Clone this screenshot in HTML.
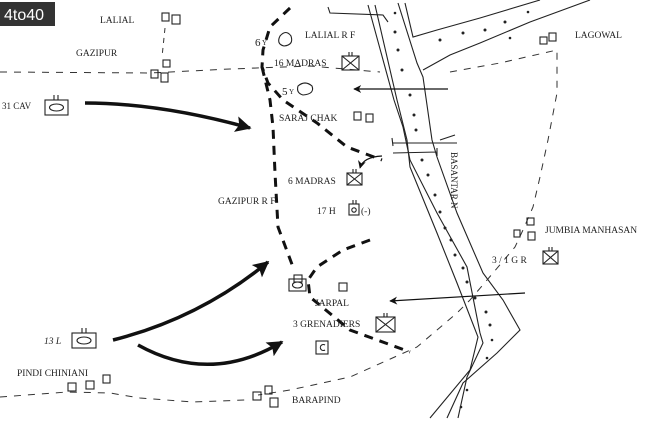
<!DOCTYPE html>
<html><head><meta charset="utf-8"><style>
html,body{margin:0;padding:0;background:#fff}
svg{display:block}
text{font-family:"Liberation Serif",serif;font-size:9.5px;fill:#222}
</style></head><body>
<svg width="650" height="422" viewBox="0 0 650 422" xmlns="http://www.w3.org/2000/svg">
<defs>
<marker id="ah" viewBox="0 0 10 10" refX="9" refY="5" markerWidth="8" markerHeight="8" orient="auto" markerUnits="userSpaceOnUse"><path d="M0,0 L10,5 L0,10 L3,5 Z" fill="#111"/></marker>
<marker id="bh" viewBox="0 0 10 10" refX="9" refY="5" markerWidth="18" markerHeight="16" orient="auto" markerUnits="userSpaceOnUse"><path d="M0,0 L10,5 L0,10 L2,5 Z" fill="#111"/></marker>
</defs>
<!-- logo -->
<rect x="0" y="2" width="55" height="24" fill="#333"/>
<text x="4" y="20" style="font-family:'Liberation Sans',sans-serif;font-size:16px;fill:#fff">4to40</text>

<g fill="none" stroke="#222" stroke-width="1.1">
<!-- river lines -->
<path d="M368,5 L394,100 L403,127 L410,160 L437,213 L467,267 L480,333 L483,343 L467,377 L458,418"/>
<path d="M375,5 L397,100 L407,140 L410,167 L437,233 L457,283 L478,337 L470,370 L430,418"/>
<path d="M398,3 L417,63 L423,77 L432,140 L437,157 L457,213 L483,273 L503,300 L520,330 L497,353 L463,383 L447,418"/>
<path d="M405,3 L413,37 L437,30 L480,18 L540,0"/>
<path d="M423,70 L450,55 L480,43 L530,22 L590,0"/>
<path d="M328,7 L330,13 L383,15 L388,22"/>
<!-- bridges -->
<path d="M393,143 L457,143 M393,153 L437,152 M392,138 L393,146 M437,148 L437,156"/>
<path d="M440,140 L455,135"/>
</g>
<!-- dots -->
<g fill="#222">
<circle cx="395" cy="13" r="1.3"/><circle cx="395" cy="32" r="1.5"/><circle cx="398" cy="50" r="1.5"/><circle cx="402" cy="70" r="1.5"/><circle cx="410" cy="95" r="1.5"/><circle cx="414" cy="115" r="1.5"/><circle cx="416" cy="130" r="1.5"/>
<circle cx="422" cy="160" r="1.5"/><circle cx="428" cy="175" r="1.5"/><circle cx="435" cy="195" r="1.5"/><circle cx="440" cy="212" r="1.5"/><circle cx="445" cy="228" r="1.5"/><circle cx="451" cy="240" r="1.5"/><circle cx="455" cy="255" r="1.5"/><circle cx="463" cy="268" r="1.5"/><circle cx="467" cy="282" r="1.5"/><circle cx="475" cy="298" r="1.5"/><circle cx="486" cy="312" r="1.5"/><circle cx="490" cy="325" r="1.5"/><circle cx="492" cy="340" r="1.3"/><circle cx="487" cy="358" r="1.3"/><circle cx="467" cy="390" r="1.3"/><circle cx="461" cy="407" r="1.3"/>
<circle cx="440" cy="40" r="1.5"/><circle cx="463" cy="33" r="1.5"/><circle cx="485" cy="30" r="1.5"/><circle cx="505" cy="22" r="1.5"/><circle cx="528" cy="12" r="1.3"/><circle cx="510" cy="38" r="1.3"/>
</g>

<!-- thin dashed -->
<g fill="none" stroke="#333" stroke-width="1" stroke-dasharray="7,7">
<path d="M0,72 L150,73 L230,69 L310,66 L380,72"/>
<path d="M450,72 L500,63 L557,50 L557,93 L548,140 L540,177 L533,207 L523,230 L515,247 L493,273 L470,300 L457,313 L417,347 L350,377 L290,390 L258,395"/>
<path d="M0,397 L67,392 L110,393 L140,398 L193,402 L245,400"/>
<path d="M165,28 L162,57" stroke-dasharray="5,5"/>
</g>
<!-- thick dashed -->
<g fill="none" stroke="#111" stroke-width="3" stroke-dasharray="9,7">
<path d="M290,8 L270,27 L263,50 L262,67 L268,83 L283,100 L317,123 L347,147 L382,160"/>
<path d="M262,67 L270,100 L273,127 L275,173 L278,227 L293,267"/>
<path d="M370,240 L343,250 L317,267 L308,280 L310,297 L350,330 L410,352"/>
</g>
<!-- arrows -->
<g fill="none" stroke="#111">
<path d="M448,89 L354,89" stroke-width="1.2" marker-end="url(#ah)"/>
<path d="M525,293 L390,301" stroke-width="1.2" marker-end="url(#ah)"/>
<path d="M382,156 Q363,157 360,168" stroke-width="1.2" marker-end="url(#ah)"/>
<path d="M85,103 Q160,103 250,128" stroke-width="3.5" marker-end="url(#bh)"/>
<path d="M113,340 Q200,318 268,262" stroke-width="3.5" marker-end="url(#bh)"/>
<path d="M138,345 Q210,385 282,342" stroke-width="3.5" marker-end="url(#bh)"/>
</g>

<!-- squares -->
<g fill="none" stroke="#222" stroke-width="1.1">
<rect x="162" y="13" width="7" height="8"/><rect x="172" y="15" width="8" height="9"/>
<rect x="163" y="60" width="7" height="7"/><rect x="151" y="70" width="7" height="8"/><rect x="161" y="73" width="7" height="9"/>
<rect x="354" y="112" width="7" height="8"/><rect x="366" y="114" width="7" height="8"/>
<rect x="294" y="275" width="8" height="7"/><rect x="339" y="283" width="8" height="8"/>
<rect x="540" y="37" width="7" height="7"/><rect x="549" y="33" width="7" height="8"/>
<rect x="527" y="218" width="7" height="7"/><rect x="514" y="230" width="6" height="7"/><rect x="528" y="232" width="7" height="8"/>
<rect x="68" y="383" width="8" height="8"/><rect x="86" y="381" width="8" height="8"/><rect x="103" y="375" width="7" height="8"/>
<rect x="253" y="392" width="8" height="8"/><rect x="265" y="386" width="7" height="8"/><rect x="270" y="398" width="8" height="9"/>
<!-- unit X boxes -->
<rect x="342" y="56" width="17" height="14"/><path d="M342,56 L359,70 M359,56 L342,70 M349,52 L349,56 M352,52 L352,56"/>
<rect x="347" y="173" width="15" height="12"/><path d="M347,173 L362,185 M362,173 L347,185 M353,169 L353,173 M356,169 L356,173"/>
<rect x="376" y="317" width="19" height="15"/><path d="M376,317 L395,332 M395,317 L376,332 M384,313 L384,317 M387,313 L387,317"/>
<rect x="543" y="251" width="15" height="13"/><path d="M543,251 L558,264 M558,251 L543,264 M549,247 L549,251 M552,247 L552,251"/>
<!-- tank boxes -->
<rect x="45" y="100" width="23" height="15"/><ellipse cx="56.5" cy="107.5" rx="7" ry="3.5"/><path d="M54,95 L54,100 M58,95 L58,100"/>
<rect x="72" y="333" width="24" height="15"/><ellipse cx="84" cy="340.5" rx="7" ry="3.5"/><path d="M82,328 L82,333 M86,328 L86,333"/>
<rect x="289" y="279" width="17" height="12"/><ellipse cx="297.5" cy="285" rx="5" ry="3"/>
<rect x="349" y="204" width="10" height="11"/><circle cx="354" cy="210" r="2.2"/><path d="M353,200 L353,204 M356,200 L356,204"/>
<rect x="316" y="341" width="12" height="13"/><path d="M325,345 A3,3 0 1 0 325,350"/>
<!-- Y blobs -->
<path d="M280,36 Q286,29 291,36 Q294,45 284,46 Q276,44 280,36Z"/>
<path d="M298,86 Q305,80 312,86 Q315,94 303,95 Q296,93 298,86Z"/>
</g>

<!-- labels -->
<text x="100" y="23">LALIAL</text>
<text x="76" y="56">GAZIPUR</text>
<text x="2" y="109" style="font-size:9px">31 CAV</text>
<text x="305" y="38">LALIAL R F</text>
<text x="274" y="66">16 MADRAS</text>
<text x="255" y="46" style="font-size:11px">6</text><text x="262" y="45" style="font-size:7px">Y</text>
<text x="282" y="95" style="font-size:11px">5</text><text x="289" y="94" style="font-size:7px">Y</text>
<text x="279" y="121">SARAJ CHAK</text>
<text x="288" y="184">6 MADRAS</text>
<text x="218" y="204">GAZIPUR R F</text>
<text x="317" y="214">17 H</text><text x="361" y="214">(-)</text>
<text x="315" y="306">JARPAL</text>
<text x="293" y="327">3 GRENADIERS</text>
<text x="44" y="344" style="font-style:italic">13 L</text>
<text x="17" y="376">PINDI CHINIANI</text>
<text x="292" y="403">BARAPIND</text>
<text x="575" y="38">LAGOWAL</text>
<text x="545" y="233">JUMBIA MANHASAN</text>
<text x="492" y="263">3 / 1 G R</text>
<text transform="translate(451,152) rotate(90)" style="font-size:9px">BASANTAR N</text>
</svg>
</body></html>
